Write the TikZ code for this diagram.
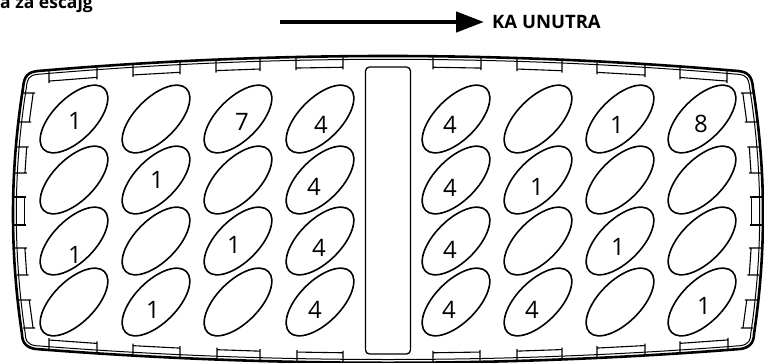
\documentclass[tikz,border=0pt]{standalone}
\usepackage{fontspec}
\setmainfont{Open Sans}
\usetikzlibrary{arrows.meta}
\newcommand{\trayoutline}[1]{%
 ({23+#1},88) .. controls ({10+#1},170) and ({9.7+#1},252) .. ({22+#1},334)
 .. controls ({22+#1},{343-#1}) and (27,{348-#1}) .. (36,{349-#1})
 .. controls (271,{367.4-#1}) and (505,{367.4-#1}) .. (740,{349-#1})
 .. controls (749,{348-#1}) and ({754-#1},{343-#1}) .. ({754-#1},334)
 .. controls ({766.3-#1},252) and ({766-#1},170) .. ({753-#1},88)
 .. controls ({752-#1},{76+#1}) and (748,{72+#1}) .. (738,{71+#1})
 .. controls (504.3,{51+#1}) and (271.7,{51+#1}) .. (38,{71+#1})
 .. controls (28,{72+#1}) and ({24+#1},{76+#1}) .. cycle}
\newcommand{\yT}[1]{(56+15*((#1-388)/350)*((#1-388)/350))}
\newcommand{\yB}[1]{(363-14*((#1-388)/352)*((#1-388)/352))}
\newcommand{\xL}[1]{(13+10*((#1-211)/123)*((#1-211)/123))}
\newcommand{\ttab}[2]{\draw[tabline] (#1,{\yT{#1}+1}) -- (#1,{\yT{#1}+13}) (#2,{\yT{#2}+1}) -- (#2,{\yT{#2}+13}) (#1,{\yT{#1}+11}) -- (#2,{\yT{#2}+11});}
\newcommand{\btab}[2]{\draw[tabline] (#1,{\yB{#1}-1}) -- (#1,{\yB{#1}-12}) (#2,{\yB{#2}-1}) -- (#2,{\yB{#2}-12}) (#1,{\yB{#1}-10}) -- (#2,{\yB{#2}-10});}
\newcommand{\ltab}[2]{\draw[tabline] ({\xL{#1}+1},#1) -- ({\xL{#1}+13},#1) ({\xL{#2}+1},#2) -- ({\xL{#2}+13},#2) ({\xL{#1}+11},#1) -- ({\xL{#2}+11},#2);}
\newcommand{\rtab}[2]{\draw[tabline] ({776-\xL{#1}-1},#1) -- ({776-\xL{#1}-13},#1) ({776-\xL{#2}-1},#2) -- ({776-\xL{#2}-13},#2) ({776-\xL{#1}-11},#1) -- ({776-\xL{#2}-11},#2);}
\begin{document}
\begin{tikzpicture}[x=1pt,y=-1pt,
  tabline/.style={line width=1.1pt},
  oval/.style={line width=1.6pt},
  num/.style={inner sep=0pt,font=\fontsize{24}{24}\selectfont},
  head/.style={inner sep=0pt,font=\fontsize{17.5}{18}\selectfont\bfseries}]
\useasboundingbox (0,0) rectangle (764,362);
% title
\node[head,anchor=base west] (ttl) at (0,8.5) {a za escajg};
\coordinate (as) at (280,22);
\coordinate (ae) at (484,22);
\draw[line width=4.5pt,-{Triangle[length=28pt,width=20pt]}] (as) -- (ae);
\node[head,anchor=west,font=\fontsize{18.5}{19}\selectfont\bfseries] (ka) at (492,21.5) {KA UNUTRA};
% outline
\draw[line width=2.6pt] \trayoutline{0};
\draw[line width=1pt] \trayoutline{3.3};
% tabs
\foreach \a/\b in {49/97,133/180,216/260,296/343,433/481,517/562,597/645,680/727}{\ttab{\a}{\b}}
\foreach \a/\b in {49/97,133/180,217/260,297/343,433/480,517/562,597/645,680/728}{\btab{\a}{\b}}
\foreach \a/\b in {93/122,147/173,197/225,248/275,300/328}{\ltab{\a}{\b}\rtab{\a}{\b}}
% centre slot
\draw[line width=1.3pt,rounded corners=4pt] (365.5,67) rectangle (410.5,354);
% ovals
\foreach \cx in {74,156,238,320,456,538,620,702}{
  \foreach \cy in {119,180,241,302}{
    \draw[oval] (\cx,\cy) ellipse [x radius=43pt, y radius=21pt, rotate=45];
  }}
% numbers
\node[num] (n11) at (75,121) {1};
\node[num] (n13) at (242,122) {7};
\node[num] (n14) at (321,125) {4};
\node[num] (n15) at (450,125) {4};
\node[num] (n17) at (617,125) {1};
\node[num] (n18) at (701,124) {8};
\node[num] (n22) at (157,180) {1};
\node[num] (n24) at (314,187) {4};
\node[num] (n25) at (450,188) {4};
\node[num] (n26) at (537,187) {1};
\node[num] (n31) at (75,255) {1};
\node[num] (n33) at (234,245) {1};
\node[num] (n34) at (319,248) {4};
\node[num] (n35) at (450,250) {4};
\node[num] (n37) at (618,247) {1};
\node[num] (n42) at (153,310) {1};
\node[num] (n44) at (315,310) {4};
\node[num] (n45) at (449,310) {4};
\node[num] (n46) at (532,310) {4};
\node[num] (n48) at (704,306) {1};
\end{tikzpicture}
\end{document}
